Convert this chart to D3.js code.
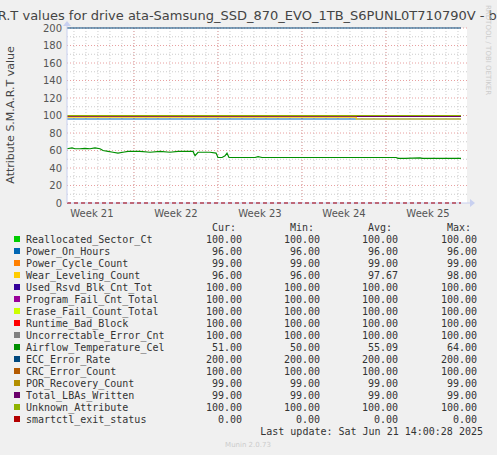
<!DOCTYPE html>
<html><head><meta charset="utf-8">
<script src="https://cdn.jsdelivr.net/npm/d3@7"></script>
<style>body{margin:0;background:#f0f0f0}</style>
</head><body>
<script>
// series names, colours and legend stats
var names = ["Reallocated_Sector_Ct","Power_On_Hours","Power_Cycle_Count","Wear_Leveling_Count",
  "Used_Rsvd_Blk_Cnt_Tot","Program_Fail_Cnt_Total","Erase_Fail_Count_Total","Runtime_Bad_Block",
  "Uncorrectable_Error_Cnt","Airflow_Temperature_Cel","ECC_Error_Rate","CRC_Error_Count",
  "POR_Recovery_Count","Total_LBAs_Written","Unknown_Attribute","smartctl_exit_status"];
var colors = ["#00cc00","#0066b3","#ff8000","#ffcc00","#330099","#990099","#ccff00","#ff0000",
  "#808080","#008f00","#00487d","#b35a00","#b38f00","#6b006b","#8fb300","#b30000"];
var cur = ["100.00","96.00","99.00","96.00","100.00","100.00","100.00","100.00","100.00","51.00","200.00","100.00","99.00","99.00","100.00","0.00"];
var mins = ["100.00","96.00","99.00","96.00","100.00","100.00","100.00","100.00","100.00","50.00","200.00","100.00","99.00","99.00","100.00","0.00"];
var avgs = ["100.00","96.00","99.00","97.67","100.00","100.00","100.00","100.00","100.00","55.09","200.00","100.00","99.00","99.00","100.00","0.00"];
var maxs = ["100.00","96.00","99.00","98.00","100.00","100.00","100.00","100.00","100.00","64.00","200.00","100.00","99.00","99.00","100.00","0.00"];

// time in days from left edge of plot
var constT = [0, 32.83];
var constV = [100, 96, 99, null, 100, 100, 100, 100, 100, null, 200, 100, 99, 99, 100, 0];
var wearT = [0, 24.1, 24.1, 32.83];
var wearV = [98, 98, 96, 96];
var tempT = [0,0.42,0.67,1.08,1.5,1.92,2.33,2.75,3,3.42,3.83,4.25,4.67,5.08,5.67,6.08,6.92,7.75,8.58,9.25,9.67,10.5,10.67,10.92,11.92,12.42,12.58,12.92,13.17,13.33,13.5,15.67,15.92,16.25,27.42,27.58,28.17,29.42,29.58,32.83];
var tempV = [62,63,62,62,62.5,62,63,62,60,59,58,57,58,59,59,59,58,59,58,59,59,59,54,58,58,57,52,52,54,57,52,52,53,52,52,51,51,51.5,51,51];
var weekStarts = [5.58, 12.58, 19.58, 26.58];
var weekLabels = ["Week 21","Week 22","Week 23","Week 24","Week 25"];
var yTicks = [0,20,40,60,80,100,120,140,160,180,200];

var W = 497, H = 455;
var svg = d3.select("body").append("svg").attr("width", W).attr("height", H)
  .style("font-family", "DejaVu Sans");

var x = d3.scaleLinear().domain([0, 33.33]).range([67, 467]);
var y = d3.scaleLinear().domain([0, 200]).range([203, 28]);

svg.append("rect").attr("x", 67).attr("y", 28).attr("width", 400).attr("height", 175).attr("fill", "#fff");

// grid
d3.range(0.58, 33.3, 1).forEach(function(d) {
  svg.append("line").attr("x1", x(d)).attr("x2", x(d)).attr("y1", 28).attr("y2", 203)
    .attr("stroke", "#ccc").attr("stroke-dasharray", "1,2");
});
weekStarts.forEach(function(d) {
  svg.append("line").attr("x1", x(d)).attr("x2", x(d)).attr("y1", 28).attr("y2", 203)
    .attr("stroke", "#e8a0a0").attr("stroke-dasharray", "1,2");
});
d3.range(10, 201, 10).forEach(function(v) {
  svg.append("line").attr("x1", 67).attr("x2", 467).attr("y1", y(v)).attr("y2", y(v))
    .attr("stroke", v % 20 ? "#ccc" : "#e8a0a0").attr("stroke-dasharray", "1,2");
});

// axes
var yAxis = svg.append("g").attr("transform", "translate(67,0)")
  .call(d3.axisLeft(y).tickValues(yTicks).tickSize(0).tickPadding(5));
yAxis.select(".domain").remove();
yAxis.selectAll("text").attr("fill", "#555").style("font-size", "10px").style("font-family", "DejaVu Sans");

weekLabels.forEach(function(l, i) {
  svg.append("text").attr("x", x(weekStarts[0] - 3.5 + 7 * i)).attr("y", 217).attr("text-anchor", "middle")
    .attr("fill", "#555").style("font-size", "10px").text(l);
});

// lines
var line = d3.line().x(function(p) { return x(p[0]); }).y(function(p) { return y(p[1]); });
function draw(ts, vs, c, dash) {
  svg.append("path").attr("d", line(ts.map(function(t, i) { return [t, vs[i]]; })))
    .attr("fill", "none").attr("stroke", c).attr("stroke-width", dash ? 2 : 1.2)
    .attr("stroke-dasharray", dash || null);
}
constV.forEach(function(v, i) {
  if (v === null) return;
  draw(constT, [v, v], colors[i], i === 15 ? "4,3" : null);
});
draw(wearT, wearV, colors[3]);
draw(tempT, tempV, colors[9]);

// axis lines with arrows
svg.append("line").attr("x1", 67).attr("x2", 470).attr("y1", 203).attr("y2", 203).attr("stroke", "#c8d0f0");
svg.append("line").attr("x1", 67).attr("x2", 67).attr("y1", 203).attr("y2", 24).attr("stroke", "#c8d0f0");
svg.append("path").attr("d", "M470,199L475,203L470,207Z").attr("fill", "#c8d0f0");
svg.append("path").attr("d", "M63,26L67,21L71,26Z").attr("fill", "#c8d0f0");

// title and labels
svg.append("text").attr("x", 254).attr("y", 20).attr("text-anchor", "middle")
  .attr("fill", "#444").style("font-size", "13px")
  .text("S.M.A.R.T values for drive ata-Samsung_SSD_870_EVO_1TB_S6PUNL0T710790V - by month");
svg.append("text").attr("transform", "translate(14,115) rotate(-90)").attr("text-anchor", "middle")
  .attr("fill", "#444").style("font-size", "11px").text("Attribute S.M.A.R.T value");
svg.append("text").attr("transform", "translate(486,5) rotate(90)")
  .attr("fill", "#ccc").style("font-size", "7px").text("RRDTOOL / TOBI OETIKER");

// legend
var lg = svg.append("g").style("font-family", "DejaVu Sans Mono").style("font-size", "10px").attr("fill", "#333");
var cols = [242, 320, 398, 477];
["Cur:", "Min:", "Avg:", "Max:"].forEach(function(h, j) {
  lg.append("text").attr("x", cols[j] - 6).attr("y", 231).attr("text-anchor", "end").text(h);
});
names.forEach(function(n, i) {
  var yy = 243 + 12 * i;
  lg.append("rect").attr("x", 14).attr("y", yy - 7).attr("width", 6).attr("height", 6).attr("fill", colors[i]);
  lg.append("text").attr("x", 26).attr("y", yy).text(n);
  [cur, mins, avgs, maxs].forEach(function(arr, j) {
    lg.append("text").attr("x", cols[j]).attr("y", yy).attr("text-anchor", "end").text(arr[i]);
  });
});
lg.append("text").attr("x", 483).attr("y", 435).attr("text-anchor", "end").text("Last update: Sat Jun 21 14:00:28 2025");
svg.append("text").attr("x", 248).attr("y", 447).attr("text-anchor", "middle")
  .attr("fill", "#ccc").style("font-size", "7px").text("Munin 2.0.73");
</script>
</body></html>
